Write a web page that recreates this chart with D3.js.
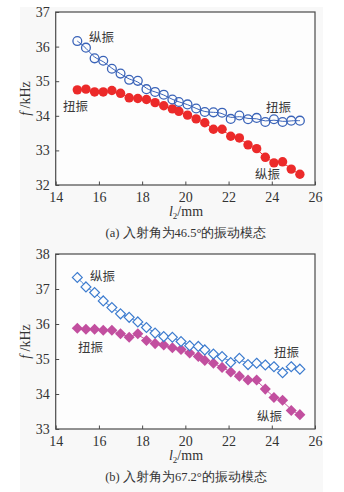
<!DOCTYPE html>
<html><head><meta charset="utf-8">
<script src="https://cdn.jsdelivr.net/npm/d3@7"></script>
<style>body{margin:0;background:#fff}svg{display:block}</style>
</head><body>
<svg id="c" width="344" height="492"></svg>
<script>
// ---- data ----
const xTicks = [14,16,18,20,22,24,26];
const yTicksA = [32,33,34,35,36,37];
const yTicksB = [33,34,35,36,37,38];
const xA = [15.0,15.4,15.8,16.2,16.6,17.0,17.4,17.8,18.2,18.6,19.0,19.4,19.7,20.1,20.5,20.9,21.3,21.7,22.1,22.5,22.9,23.3,23.7,24.1,24.5,24.9,25.3];
const blueA = [36.16,35.97,35.66,35.59,35.36,35.22,35.04,35.01,34.77,34.69,34.61,34.47,34.40,34.33,34.21,34.11,34.10,34.09,33.91,34.01,33.90,33.94,33.82,33.90,33.82,33.86,33.86];
const redA  = [34.75,34.77,34.69,34.69,34.73,34.65,34.52,34.50,34.47,34.38,34.29,34.20,34.13,34.02,33.91,33.80,33.61,33.61,33.41,33.36,33.16,33.05,32.80,32.64,32.67,32.46,32.31];
const xB = [15.0,15.4,15.8,16.2,16.6,17.0,17.4,17.8,18.2,18.6,19.0,19.4,19.8,20.2,20.6,20.9,21.3,21.7,22.1,22.5,22.9,23.3,23.7,24.1,24.5,24.9,25.3];
const blueB = [37.33,37.06,36.90,36.66,36.47,36.29,36.19,36.06,35.90,35.74,35.64,35.62,35.50,35.38,35.36,35.26,35.14,35.07,34.90,35.02,34.84,34.88,34.83,34.78,34.61,34.78,34.71];
const pinkB = [35.88,35.85,35.85,35.82,35.82,35.72,35.62,35.72,35.53,35.44,35.40,35.32,35.27,35.17,35.07,34.96,34.88,34.76,34.63,34.51,34.40,34.40,34.14,33.90,33.82,33.53,33.41];
const captionA = "(a) 入射角为46.5°的振动模态";
const captionB = "(b) 入射角为67.2°的振动模态";

const svg = d3.select("#c");
svg.append("rect").attr("x",20).attr("y",7).attr("width",303).attr("height",485).attr("fill","#f8f8f8");

const serif = "'Liberation Serif','DejaVu Serif',serif";
const cjk = "'Noto Sans CJK SC',sans-serif";
const axisColor = "#4a4a4a";

function panel(cfg){
  const x = d3.scaleLinear().domain([14,26]).range([55.7,315]);
  const y = d3.scaleLinear().domain(cfg.yDomain).range([cfg.yBottom, cfg.yTop]);
  const g = svg.append("g");
  g.append("rect").attr("x",x(14)).attr("y",cfg.yTop).attr("width",x(26)-x(14)).attr("height",cfg.yBottom-cfg.yTop)
    .attr("fill","#fdfdfd").attr("stroke",axisColor).attr("stroke-width",1.2);
  const xa = g.append("g").attr("transform",`translate(0,${cfg.yBottom})`)
    .call(d3.axisBottom(x).tickValues(xTicks).tickSize(-3.5).tickPadding(7).tickFormat(d3.format("d")));
  const ya = g.append("g").attr("transform",`translate(${x(14)},0)`)
    .call(d3.axisLeft(y).tickValues(cfg.yTicks).tickSize(-3.5).tickPadding(6).tickFormat(d3.format("d")));
  [xa,ya].forEach(a=>{
    a.select(".domain").remove();
    a.selectAll("line").attr("stroke",axisColor);
    a.selectAll("text").attr("font-family",serif).attr("font-size",14).attr("fill","#333");
  });
  const s1 = cfg.x.map((d,i)=>[d,cfg.s1[i]]);
  const s2 = cfg.x.map((d,i)=>[d,cfg.s2[i]]);
  const line = d3.line().x(d=>x(d[0])).y(d=>y(d[1])).curve(d3.curveBasis);
  g.append("path").attr("d",line(s2)).attr("fill","none").attr("stroke",cfg.c2).attr("stroke-width",1);
  g.append("path").attr("d",line(s1)).attr("fill","none").attr("stroke",cfg.c1).attr("stroke-width",1);
  if(cfg.shape==="circle"){
    g.selectAll(".m2").data(s2).join("circle").attr("cx",d=>x(d[0])).attr("cy",d=>y(d[1])).attr("r",4.7).attr("fill",cfg.c2);
    g.selectAll(".m1").data(s1).join("circle").attr("cx",d=>x(d[0])).attr("cy",d=>y(d[1])).attr("r",4.4)
      .attr("fill","none").attr("stroke",cfg.c1).attr("stroke-width",1.3);
  } else {
    const sym = d3.symbol().type(d3.symbolDiamond2);
    g.selectAll(".m2").data(s2).join("path").attr("d",sym.size(78)())
      .attr("transform",d=>`translate(${x(d[0])},${y(d[1])})`).attr("fill",cfg.c2);
    g.selectAll(".m1").data(s1).join("path").attr("d",sym.size(62)())
      .attr("transform",d=>`translate(${x(d[0])},${y(d[1])})`).attr("fill","#fdfdfd").attr("stroke",cfg.c1).attr("stroke-width",1.2);
  }
  cfg.labels.forEach(l=>{
    g.append("text").attr("x",l[1]).attr("y",l[2]).text(l[0]).attr("font-family",cjk).attr("font-size",12.5).attr("fill","#3a3a3a");
  });
  const yt = g.append("text").attr("transform",`translate(30,${(cfg.yTop+cfg.yBottom)/2}) rotate(-90)`)
    .attr("text-anchor","middle").attr("font-family",serif).attr("font-size",14).attr("fill","#333");
  yt.append("tspan").attr("font-style","italic").text("f");
  yt.append("tspan").text(" /kHz");
  const xt = g.append("text").attr("x",186).attr("y",cfg.yBottom+31).attr("text-anchor","middle")
    .attr("font-family",serif).attr("font-size",14).attr("fill","#333");
  xt.append("tspan").attr("font-style","italic").text("l");
  xt.append("tspan").attr("font-size",9).attr("dy",3).text("2");
  xt.append("tspan").attr("dy",-3).text("/mm");
  g.append("text").attr("x",186).attr("y",cfg.yBottom+52).attr("text-anchor","middle")
    .attr("font-family",serif).attr("font-size",12.5).attr("fill","#333").text(cfg.caption);
}

panel({yDomain:[32,37], yTop:12, yBottom:185, yTicks:yTicksA, x:xA, s1:blueA, s2:redA,
  c1:"#3a63b8", c2:"#ec2a2a", shape:"circle", caption:captionA,
  labels:[["纵振",89,42],["扭振",63,111],["扭振",266,112],["纵振",255,179]]});
panel({yDomain:[33,38], yTop:254, yBottom:429, yTicks:yTicksB, x:xB, s1:blueB, s2:pinkB,
  c1:"#3d7ccf", c2:"#c24f9f", shape:"diamond", caption:captionB,
  labels:[["纵振",90,281],["扭振",78,352],["扭振",274,357],["纵振",257,421]]});
</script>
</body></html>
